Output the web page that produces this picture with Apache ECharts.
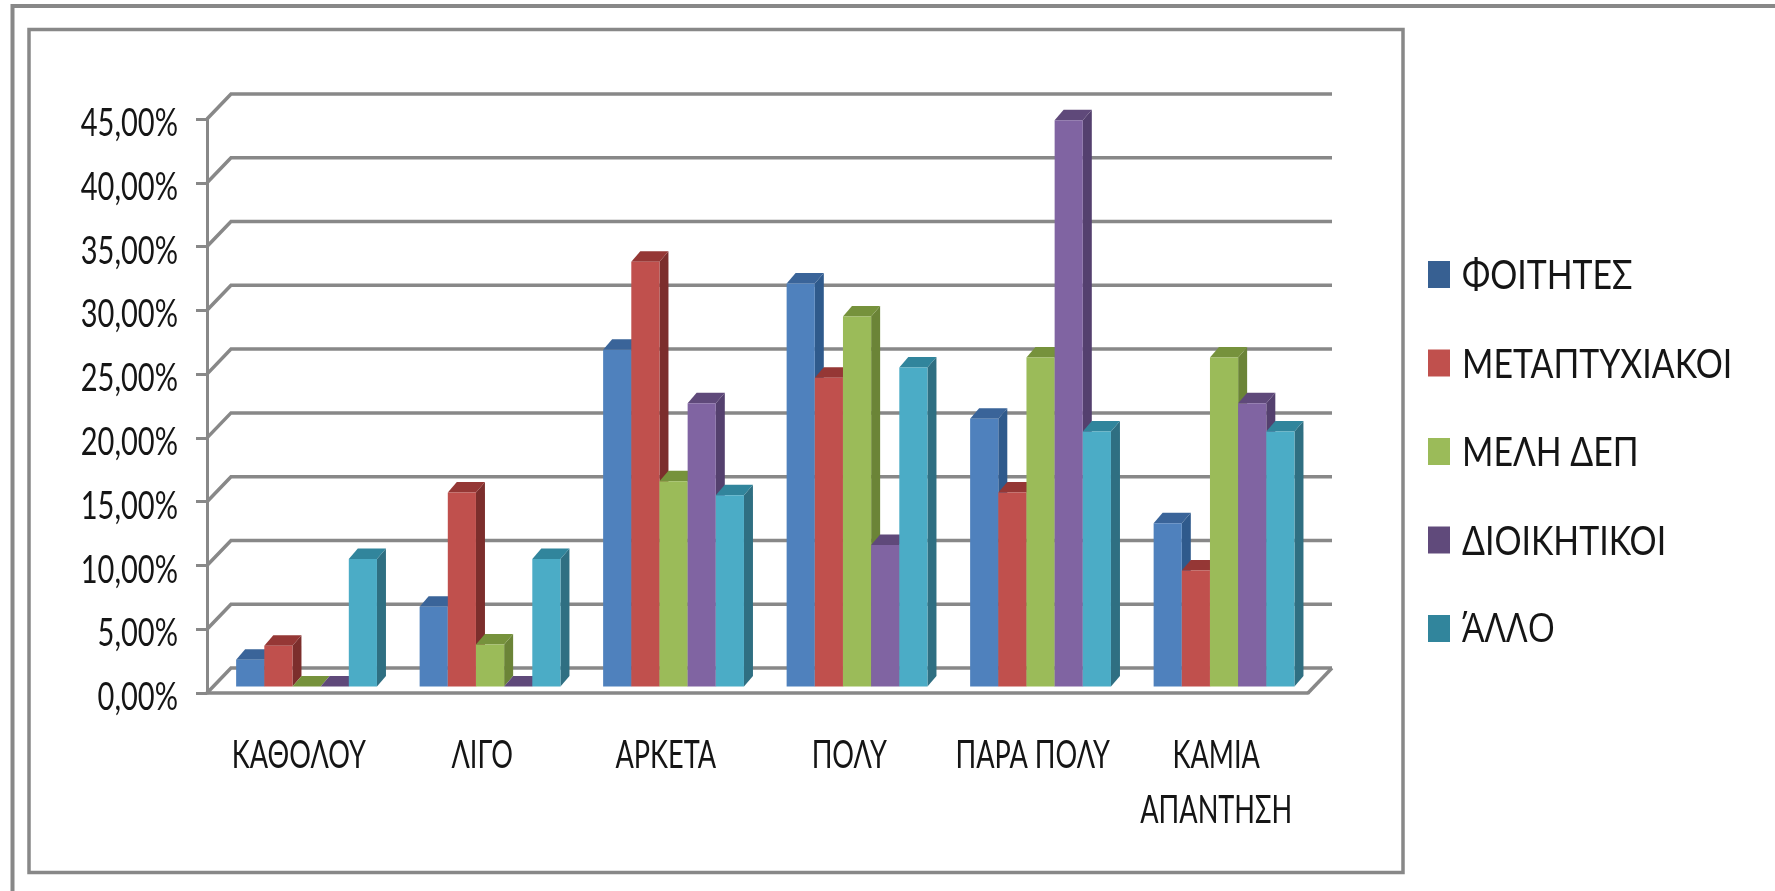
<!DOCTYPE html>
<html>
<head>
<meta charset="utf-8">
<title>chart</title>
<script src="https://cdn.jsdelivr.net/npm/echarts@6/dist/echarts.min.js"></script>
<style>
html,body{margin:0;padding:0;background:#fff;}
#main{width:1775px;height:891px;}
</style>
</head>
<body>
<div id="main"></div>
<script>
var categories = ["ΚΑΘΟΛΟΥ", "ΛΙΓΟ", "ΑΡΚΕΤΑ", "ΠΟΛΥ", "ΠΑΡΑ ΠΟΛΥ", "ΚΑΜΙΑ\nΑΠΑΝΤΗΣΗ"];
var seriesNames = ["ΦΟΙΤΗΤΕΣ", "ΜΕΤΑΠΤΥΧΙΑΚΟΙ", "ΜΕΛΗ ΔΕΠ", "ΔΙΟΙΚΗΤΙΚΟΙ", "ΆΛΛΟ"];

var foitites = [2.1, 6.25, 26.4, 31.6, 21.0, 12.8];
var metaptyxiakoi = [3.2, 15.2, 33.3, 24.2, 15.2, 9.1];
var meliDep = [0, 3.3, 16.1, 29.0, 25.8, 25.8];
var dioikitikoi = [0, 0, 22.2, 11.1, 44.4, 22.2];
var allo = [10, 10, 15, 25, 20, 20];
var allValues = [foitites, metaptyxiakoi, meliDep, dioikitikoi, allo];

var yTicks = [0, 5, 10, 15, 20, 25, 30, 35, 40, 45];

// front, top, side and legend colours of each series
var frontColors = ["#4f81bd", "#c0504d", "#9bbb59", "#8064a2", "#4bacc6"];
var topColors = ["#3a6499", "#953735", "#76923c", "#5f497a", "#31859c"];
var sideColors = ["#2f5a8c", "#7c2e2c", "#6b8437", "#54406e", "#2f6f82"];
var legendColors = ["#376092", "#c0504d", "#9bbb59", "#604a7b", "#31859c"];

var FONT = 'Lato, "Open Sans", "Liberation Sans", sans-serif';
var ACCENT_FONT = '"Open Sans", "Liberation Sans", sans-serif'; // Lato's tonos barely shows
var TEXT_COLOR = "#151515";
var GRID_COLOR = "#888888";

var myChart = echarts.init(document.getElementById("main"));

function yLabel(v) {
    return v.toFixed(2).replace(".", ",") + "%";
}

// the original text is tall and narrow, so it is squeezed with scaleX
function narrowText(str, x, y, align, scaleX, fontSize, family) {
    return {
        type: "text",
        x: x,
        y: y,
        scaleX: scaleX,
        style: {
            text: str,
            fontFamily: family || FONT,
            fontSize: fontSize,
            lineHeight: 55,
            fill: TEXT_COLOR,
            align: align,
            verticalAlign: "top"
        }
    };
}

// back wall lines with their oblique part, and the value labels
function renderWall(params, api) {
    var v = api.value(0);
    var sys = params.coordSys;
    var y = api.coord([0, v])[1];
    var right = sys.x + sys.width;
    var children = [{
        type: "polyline",
        shape: {points: [[sys.x, y], [sys.x + 24, y - 25], [right + 24, y - 25]]},
        style: {stroke: GRID_COLOR, lineWidth: 3.5, fill: null}
    }, narrowText(yLabel(v), sys.x - 29, y - 23, "right", 0.745, 39)];
    if (v === 0) {
        children.push({
            type: "line",
            shape: {x1: right, y1: y, x2: right + 24, y2: y - 25},
            style: {stroke: GRID_COLOR, lineWidth: 3.5}
        });
    }
    return {type: "group", children: children};
}

function renderCategoryLabel(params, api) {
    var p = api.coord([api.value(0), 0]);
    return narrowText(categories[api.value(0)], p[0], p[1] + 34.5, "center", 0.695, 39);
}

function barRenderer(si) {
    return function (params, api) {
        var cat = api.value(0);
        var base = api.coord([cat, 0]);
        var top = api.coord([cat, api.value(1)]);
        var w = api.size([1, 0])[0] * 0.1535;
        var x0 = base[0] + 7.8 + (si - 2.5) * w;
        var x1 = x0 + w;
        var yb = base[1] - 6.5;
        var yt = top[1] - 6.5;
        var dx = 9, dy = 10.5;
        return {
            type: "group",
            children: [
                {type: "polygon", shape: {points: [[x1, yb], [x1 + dx, yb - dy], [x1 + dx, yt - dy], [x1, yt]]}, style: {fill: sideColors[si]}},
                {type: "polygon", shape: {points: [[x0, yt], [x0 + dx, yt - dy], [x1 + dx, yt - dy], [x1, yt]]}, style: {fill: topColors[si]}},
                {type: "rect", shape: {x: x0, y: yt, width: w, height: yb - yt}, style: {fill: frontColors[si]}}
            ]
        };
    };
}

var series = [{
    name: "wall",
    type: "custom",
    renderItem: renderWall,
    encode: {y: 0},
    clip: false,
    silent: true,
    z: 1,
    data: yTicks.map(function (t) { return [t]; })
}, {
    name: "categoryLabels",
    type: "custom",
    renderItem: renderCategoryLabel,
    encode: {x: 0},
    clip: false,
    silent: true,
    z: 1,
    data: categories.map(function (c, i) { return [i]; })
}];

seriesNames.forEach(function (name, si) {
    series.push({
        name: name,
        type: "custom",
        renderItem: barRenderer(si),
        encode: {x: 0, y: 1},
        clip: false,
        z: 3,
        itemStyle: {color: legendColors[si]},
        data: allValues[si].map(function (v, i) { return [i, v]; })
    });
});

// picture frames
var graphics = [
    {type: "polyline", z: 0, shape: {points: [[12.5, 891], [12.5, 6], [1775, 6]]}, style: {stroke: GRID_COLOR, lineWidth: 4, fill: null}},
    {type: "rect", z: 0, shape: {x: 29, y: 29.5, width: 1374, height: 843}, style: {stroke: GRID_COLOR, lineWidth: 3.5, fill: "#fff"}}
];
// legend names, next to the icons of the legend component
seriesNames.forEach(function (name, i) {
    var last = i === seriesNames.length - 1;
    var t = narrowText(name, 1462, 248.5 + i * 88.5, "left", last ? 0.87 : 0.825, last ? 41 : 41, last ? ACCENT_FONT : FONT);
    t.z = 5;
    graphics.push(t);
});

var option = {
    animation: false,
    backgroundColor: "#fff",
    grid: {left: 207, top: 119, width: 1101, height: 574},
    legend: {
        data: seriesNames,
        orient: "vertical",
        left: 1423,
        top: 256,
        icon: "rect",
        itemWidth: 22,
        itemHeight: 27,
        itemGap: 61.5,
        selectedMode: false,
        formatter: function () { return ""; }
    },
    xAxis: {
        type: "category",
        data: categories,
        axisLine: {lineStyle: {color: GRID_COLOR, width: 3.5}},
        axisTick: {length: 16, lineStyle: {color: GRID_COLOR, width: 2.5}},
        axisLabel: {show: false},
        z: 2
    },
    yAxis: {
        type: "value",
        min: 0,
        max: 45,
        interval: 5,
        splitLine: {show: false},
        axisLine: {show: true, lineStyle: {color: GRID_COLOR, width: 3}},
        axisTick: {show: true, length: 11, lineStyle: {color: GRID_COLOR, width: 3}},
        axisLabel: {show: false},
        z: 2
    },
    graphic: graphics,
    series: series
};

myChart.setOption(option);
</script>
</body>
</html>
